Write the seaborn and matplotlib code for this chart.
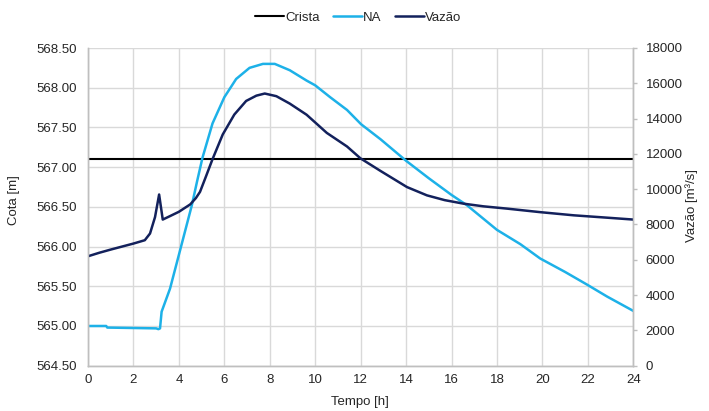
import numpy as np
import pandas as pd
import matplotlib
matplotlib.use("Agg")
import matplotlib.pyplot as plt
import seaborn as sns

# ---- data ----
crista_t = [0, 24]
crista_cota = [567.10, 567.10]

na_t = [0, 0.8, 0.85, 3.0, 3.1, 3.17, 3.24, 3.61, 4.05, 4.57, 4.8, 5.04, 5.48, 6.0,
        6.52, 7.11, 7.7, 8.22, 8.88, 9.62, 10.0, 10.66, 11.4, 12.02, 12.88, 14.0,
        15.0, 16.0, 16.68, 18.0, 19.03, 19.9, 21.0, 21.97, 22.85, 24.0]
na_cota = [565.00, 565.00, 564.98, 564.97, 564.96, 564.97, 565.18, 565.47, 565.95,
           566.52, 566.82, 567.12, 567.55, 567.88, 568.11, 568.25, 568.30, 568.30,
           568.22, 568.09, 568.03, 567.88, 567.72, 567.54, 567.35, 567.08, 566.86,
           566.65, 566.52, 566.21, 566.03, 565.85, 565.68, 565.52, 565.37, 565.19]

vaz_t = [0, 0.5, 1.0, 1.5, 2.0, 2.5, 2.73, 2.95, 3.13, 3.29, 3.6, 4.0, 4.5, 4.75,
         4.93, 5.2, 5.48, 5.93, 6.44, 6.96, 7.41, 7.78, 8.29, 8.88, 9.62, 10.51,
         11.4, 11.99, 12.88, 14.04, 14.92, 15.7, 16.53, 17.4, 18.44, 19.9, 21.38,
         22.7, 24.0]
vaz_q = [6200, 6400, 6580, 6750, 6920, 7110, 7490, 8420, 9700, 8280, 8470, 8720,
         9140, 9500, 9850, 10750, 11700, 13100, 14230, 15000, 15300, 15420, 15270,
         14850, 14220, 13190, 12420, 11750, 11030, 10120, 9650, 9380, 9180, 9030,
         8900, 8700, 8520, 8400, 8280]

x_ticks = list(range(0, 25, 2))
left_ticks = [564.5, 565.0, 565.5, 566.0, 566.5, 567.0, 567.5, 568.0, 568.5]
right_ticks = list(range(0, 18001, 2000))

# ---- style ----
sns.set_style("white")
plt.rcParams['font.family'] = ['Liberation Sans', 'DejaVu Sans']
FS = 9.5
TXT = "#262626"
GRID = "#d9d9d9"
AXC = "#bfbfbf"

fig = plt.figure(figsize=(7.09, 4.11), dpi=100)
W, H = 709, 411
L, R, T, B = 88, 633.3, 48, 365.7
ax = fig.add_axes([L / W, 1 - B / H, (R - L) / W, (B - T) / H])
ax2 = ax.twinx()

df_c = pd.DataFrame({"t": crista_t, "v": crista_cota})
df_na = pd.DataFrame({"t": na_t, "v": na_cota})
df_q = pd.DataFrame({"t": vaz_t, "v": vaz_q})

sns.lineplot(data=df_c, x="t", y="v", ax=ax, color="black", linewidth=1.5, label="Crista", legend=False)
sns.lineplot(data=df_na, x="t", y="v", ax=ax, color="#1db1e8", linewidth=1.8, label="NA", legend=False)
sns.lineplot(data=df_q, x="t", y="v", ax=ax2, color="#13215c", linewidth=1.8, label="Vazão", legend=False)

for line in ax.get_lines() + ax2.get_lines():
    line.set_solid_joinstyle("round")
    line.set_solid_capstyle("round")

ax.set_xlim(0, 24)
ax.set_ylim(564.5, 568.5)
ax2.set_ylim(0, 18000)
ax.set_xticks(x_ticks)
ax.set_yticks(left_ticks)
ax.set_yticklabels([f"{v:.2f}" for v in left_ticks])
ax2.set_yticks(right_ticks)
ax2.set_yticklabels([str(v) for v in right_ticks])

ax.grid(True, color=GRID, linewidth=1.0)
ax.set_axisbelow(True)
ax2.grid(False)

for a in (ax, ax2):
    a.set_xlabel("")
    a.set_ylabel("")
    a.spines["top"].set_visible(False)
    for s in ("left", "bottom", "right"):
        a.spines[s].set_color(AXC)
        a.spines[s].set_linewidth(1.0)

ax.tick_params(axis="y", length=0, pad=8, labelsize=FS, labelcolor=TXT)
ax.tick_params(axis="x", length=0, pad=6, labelsize=FS, labelcolor=TXT)
ax2.tick_params(axis="y", length=3, width=1, color=AXC, pad=6, labelsize=FS, labelcolor=TXT)

fig.text(14 / W, 1 - 200 / H, "Cota [m]", rotation=90, ha="center", va="center", fontsize=FS, color=TXT)
fig.text(692 / W, 1 - 205 / H, "Vazão [m³/s]", rotation=90, ha="center", va="center", fontsize=FS, color=TXT)
fig.text(360 / W, 1 - 402 / H, "Tempo [h]", ha="center", va="center", fontsize=FS, color=TXT)

h1, l1 = ax.get_legend_handles_labels()
h2, l2 = ax2.get_legend_handles_labels()
fig.legend(h1 + h2, l1 + l2, loc="center", bbox_to_anchor=(358 / W, 1 - 18 / H), ncol=3,
           frameon=False, fontsize=FS, handlelength=2.2, handletextpad=0.1, columnspacing=1.0,
           labelcolor=TXT)

fig.savefig("out.png", dpi=100)
